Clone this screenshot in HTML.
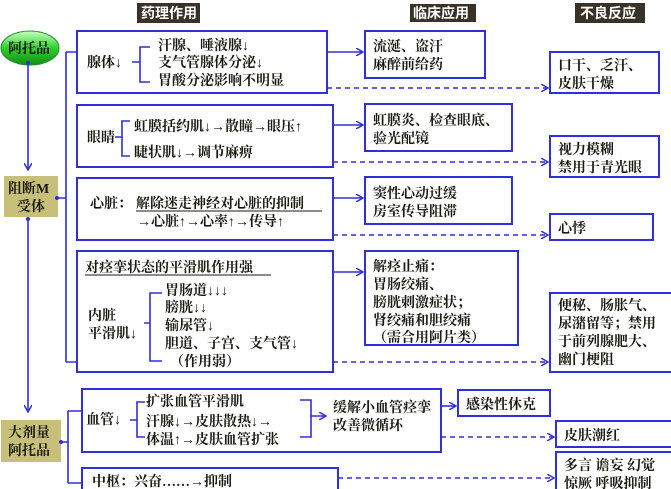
<!DOCTYPE html>
<html><head><meta charset="utf-8"><style>
body{margin:0;background:#fff;}
svg{display:block;font-family:"Liberation Serif","Noto Serif CJK SC","Noto Sans CJK SC",serif;}
text{font-size:14px;fill:#1a1a10;font-weight:bold;}
.b{fill:#fff;stroke:#3030d8;stroke-width:2;}
.l{stroke:#3030d8;stroke-width:1.6;fill:none;}
.d{stroke:#3030d8;stroke-width:1.5;fill:none;stroke-dasharray:5,4;}
.h{fill:#fff;font-size:14px;font-family:"Liberation Sans","Noto Sans CJK SC",sans-serif;}
</style></head><body>
<svg width="671" height="489" viewBox="0 0 671 489">
<defs>
<marker id="a" markerWidth="8" markerHeight="8" refX="7" refY="4" orient="auto" markerUnits="userSpaceOnUse"><path d="M0,0 L7,4 L0,8" fill="none" stroke="#3030d8" stroke-width="1.5"/></marker>
<linearGradient id="g" x1="0" y1="0" x2="0" y2="1"><stop offset="0" stop-color="#c8ffc0"/><stop offset="0.5" stop-color="#30d030"/><stop offset="1" stop-color="#109010"/></linearGradient>
</defs>
<rect x="137" y="3" width="63" height="20" fill="#3a3228"/><text x="141" y="18" class="h">药理作用</text>
<rect x="410" y="4" width="66" height="18" fill="#3a3228"/><text x="413" y="18" class="h">临床应用</text>
<rect x="575" y="3" width="70" height="20" fill="#3a3228"/><text x="580" y="18" class="h">不良反应</text>
<ellipse cx="30" cy="48" rx="29" ry="17" fill="url(#g)" stroke="#2a8a2a"/>
<text x="8" y="53">阿托品</text>
<rect x="4" y="176" width="54" height="41" fill="#c8c07a"/>
<text x="8" y="193">阻断M</text><text x="17" y="211">受体</text>
<rect x="1" y="420" width="60" height="42" fill="#c8c07a"/>
<text x="8" y="437">大剂量</text><text x="8" y="455">阿托品</text>
<line class="l" x1="28" y1="63" x2="28" y2="170" marker-end="url(#a)"/>
<circle cx="28" cy="63" r="2" fill="#3030d8"/>
<line class="l" x1="28" y1="219" x2="28" y2="412" marker-end="url(#a)"/>
<circle cx="28" cy="219" r="2" fill="#3030d8"/>
<path class="l" d="M58,198 H66 M66,52 V362 M66,52 H77 M66,362 H77"/>
<circle cx="57" cy="198" r="2" fill="#3030d8"/>
<path class="l" d="M61,442 H68 M68,411 V483 M68,411 H82 M68,483 H82"/>
<circle cx="61" cy="442" r="2" fill="#3030d8"/>
<rect class="b" x="77" y="31" width="250" height="62"/>
<text x="87" y="67">腺体↓</text>
<path class="l" d="M132,62 H140 M150,47 H140 V82 H150"/>
<text x="158" y="50">汗腺、唾液腺↓</text>
<text x="158" y="67">支气管腺体分泌↓</text>
<text x="158" y="85">胃酸分泌影响不明显</text>
<rect class="b" x="77" y="105" width="256" height="62"/>
<text x="87" y="142">眼睛</text>
<path class="l" d="M115,137 H122 M130,121 H122 V156 H130"/>
<text x="134" y="131">虹膜括约肌↓→散瞳→眼压↑</text>
<text x="134" y="157">睫状肌↓→调节麻痹</text>
<rect class="b" x="77" y="178" width="256" height="62"/>
<text x="90" y="208">心脏：</text>
<text x="136" y="208">解除迷走神经对心脏的抑制</text>
<line x1="136" y1="211" x2="322" y2="211" stroke="#1a1a10" stroke-width="1"/>
<text x="137" y="226">→心脏↑→心率↑→传导↑</text>
<rect class="b" x="77" y="251" width="256" height="121"/>
<text x="85" y="272">对痉挛状态的平滑肌作用强</text>
<line x1="85" y1="275" x2="271" y2="275" stroke="#1a1a10" stroke-width="1"/>
<text x="88" y="320">内脏</text>
<text x="88" y="338">平滑肌↓</text>
<path class="l" d="M144,323 H150 M162,293 H150 V361 H162"/>
<text x="165" y="295">胃肠道↓↓↓</text>
<text x="165" y="312">膀胱↓↓</text>
<text x="165" y="330">输尿管↓</text>
<text x="165" y="348">胆道、子宫、支气管↓</text>
<text x="170" y="366">（作用弱）</text>
<rect class="b" x="365" y="31" width="120" height="47"/>
<text x="373" y="51">流涎、盗汗</text><text x="373" y="69">麻醉前给药</text>
<rect class="b" x="365" y="104" width="147" height="47"/>
<text x="373" y="125">虹膜炎、检查眼底、</text><text x="373" y="143">验光配镜</text>
<rect class="b" x="365" y="177" width="147" height="47"/>
<text x="373" y="198">窦性心动过缓</text><text x="373" y="216">房室传导阻滞</text>
<rect class="b" x="365" y="251" width="153" height="94"/>
<text x="373" y="271">解痉止痛：</text><text x="373" y="289">胃肠绞痛、</text><text x="373" y="307">膀胱刺激症状；</text><text x="373" y="325">肾绞痛和胆绞痛</text><text x="373" y="342">（需合用阿片类）</text>
<rect class="b" x="550" y="52" width="109" height="41"/>
<text x="558" y="70">口干、乏汗、</text><text x="558" y="88">皮肤干燥</text>
<rect class="b" x="550" y="136" width="109" height="41"/>
<text x="558" y="154">视力模糊</text><text x="558" y="172">禁用于青光眼</text>
<rect class="b" x="550" y="214" width="103" height="26"/>
<text x="558" y="233">心悸</text>
<rect class="b" x="550" y="293" width="122" height="79"/>
<text x="558" y="310">便秘、肠胀气、</text><text x="558" y="328">尿潴留等；禁用</text><text x="558" y="346">于前列腺肥大、</text><text x="558" y="364">幽门梗阻</text>
<line class="l" x1="327" y1="52" x2="363" y2="52" marker-end="url(#a)"/>
<line class="d" x1="327" y1="88" x2="548" y2="88" marker-end="url(#a)"/>
<line class="l" x1="333" y1="125" x2="363" y2="125" marker-end="url(#a)"/>
<line class="d" x1="333" y1="162" x2="548" y2="162" marker-end="url(#a)"/>
<line class="l" x1="333" y1="198" x2="363" y2="198" marker-end="url(#a)"/>
<line class="d" x1="333" y1="235" x2="548" y2="235" marker-end="url(#a)"/>
<line class="l" x1="333" y1="272" x2="363" y2="272" marker-end="url(#a)"/>
<line class="d" x1="333" y1="362" x2="548" y2="362" marker-end="url(#a)"/>
<rect class="b" x="82" y="389" width="359" height="63"/>
<text x="86" y="424">血管↓</text>
<path class="l" d="M130,420 H137 M145,402 H137 V437 H145"/>
<text x="146" y="406">扩张血管平滑肌</text>
<text x="146" y="426">汗腺↓→皮肤散热↓→</text>
<text x="146" y="444">体温↑→皮肤血管扩张</text>
<path class="l" d="M300,400 H311 V437 H300 M311,416 H326" marker-end="url(#a)"/>
<text x="333" y="412">缓解小血管痉挛</text>
<text x="333" y="430">改善微循环</text>
<line class="l" x1="441" y1="406" x2="456" y2="406" marker-end="url(#a)"/>
<rect class="b" x="458" y="390" width="92" height="26"/>
<text x="466" y="409">感染性休克</text>
<line class="d" x1="441" y1="437" x2="554" y2="437" marker-end="url(#a)"/>
<rect class="b" x="556" y="421" width="116" height="26"/>
<text x="564" y="440">皮肤潮红</text>
<rect class="b" x="82" y="468" width="256" height="30"/>
<text x="92" y="486">中枢：兴奋……→抑制</text>
<line class="d" x1="338" y1="478" x2="554" y2="478" marker-end="url(#a)"/>
<rect class="b" x="556" y="452" width="116" height="45"/>
<text x="564" y="470">多言 谵妄 幻觉</text>
<text x="564" y="488">惊厥 呼吸抑制</text>
</svg>
</body></html>
